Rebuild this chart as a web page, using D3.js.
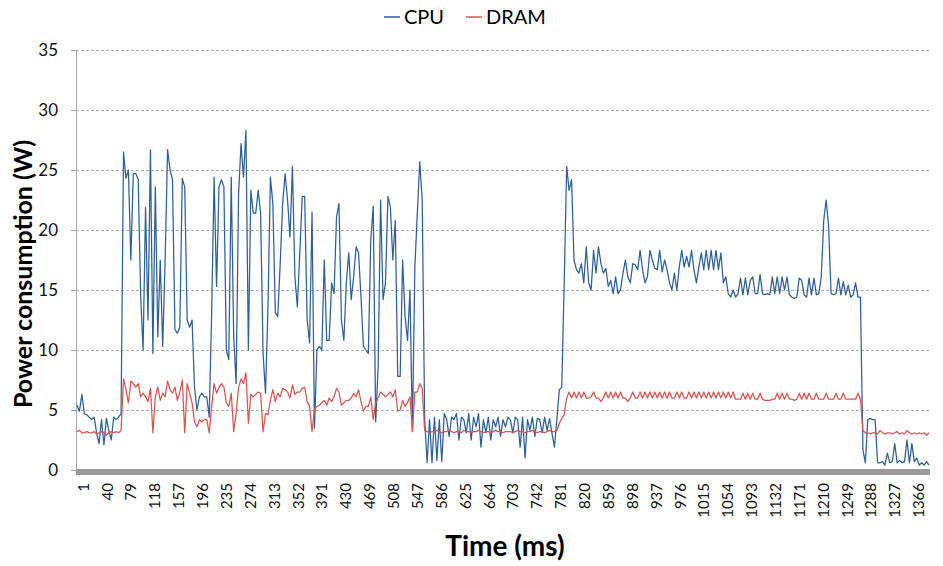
<!DOCTYPE html>
<html>
<head>
<meta charset="utf-8">
<script src="https://cdn.jsdelivr.net/npm/d3@7"></script>
<style>
  body { margin: 0; background: #fff; }
  text { font-family: Lato, "Open Sans", sans-serif; }
</style>
</head>
<body>
<svg id="chart"></svg>
<script>
// power samples, one every 4 ms
const sampleStepMs = 4;

const cpuWatts = [
  5.4, 4.9, 6.3, 4.7, 4.6, 4.4, 4.2, 4.4, 3.1, 2.2, 4.2, 2.1, 4.3, 3.3, 2.5, 4.4, 4.2, 4.4, 4.7,
  26.5, 24.3, 25, 17.5, 24.7, 24.7, 24.2, 14.5, 10, 21.9, 12.5, 26.7, 9.7, 23.6, 11.1, 17.5, 10.3, 17.5, 26.7, 25,
  24.2, 11.7, 11.4, 11.9, 24.3, 23.6, 12.5, 11.9, 12.5, 6.9, 5, 6.1, 6.4, 6.1, 6.1, 4.4, 13.1, 24.4, 15.3, 23.6,
  24.2, 23.6, 10, 9.2, 24.4, 11.1, 7.2, 23, 27.2, 24.4, 28.3, 10, 23.3, 21.4, 21.4, 23.3, 21.4, 9.7, 6.4, 13.6,
  24.4, 22.2, 13.1, 12.8, 17.2, 22.2, 24.7, 22.5, 19.4, 25.3, 16.1, 13.6, 18.1, 22.8, 22.8, 12.5, 10.6, 21.5, 3.5, 10,
  10.3, 10, 17.5, 10.8, 10.8, 15.6, 14.7, 21.1, 22.2, 12.5, 10.8, 15.6, 18.1, 14.2, 16.1, 18.6, 18.1, 14.4, 10.3, 10,
  9.7, 19.2, 22, 4, 8.6, 22.5, 14.2, 15.6, 22.8, 21.9, 17.5, 20.8, 7.8, 7.8, 17.5, 12.8, 10.8, 15, 3.2, 16.9,
  21.4, 25.7, 22.5, 4.2,
  0.6, 4.2, 0.6, 4.4, 0.8, 4.2, 0.7, 4.7, 4.2, 2.8, 4.4, 4.2, 4.7, 2.5, 4.4, 4.2, 3.1, 4.7, 2.5, 4.4,
  3.6, 4.7, 1.9, 4.2, 3.1, 4.4, 2.5, 4.2, 3.6, 4.4, 2.8, 4.2, 3.6, 4.4, 4.2, 3.1, 4.4, 4.2, 1.9, 4.4,
  1.0, 4.2, 3.3, 4.4, 2.8, 4.3, 4.2, 3.1, 4.4, 3.3, 4.3, 3.1, 1.9, 4.2,
  6.7, 6.9, 15.6, 25.3, 23.3, 24.2, 17.5, 16.7,
  16.4, 17.2, 15.6, 18.6, 15.6, 15, 18.3, 16.4, 18.6, 17.2, 16.4, 16.8, 15.3, 15.8, 14.7, 16.1, 14.7, 15, 16.4, 17.5,
  16.1, 15.6, 17.2, 17.1, 16.7, 18.3, 16.7, 15.6, 16.1, 18.3, 17.5, 16.8, 16.7, 18.3, 16.5, 17.5, 16.7, 15.6, 15, 16.4,
  15, 16.9, 18.3, 16.9, 17.8, 16.9, 18.3, 16.7, 15.6, 16.9, 18.1, 16.7, 18.3, 16.7, 18.3, 16.7, 18.3, 16.7, 18.1, 15.6,
  16.1, 14.7, 14.4, 15, 14.4, 14.7,
  16, 14.6, 16, 14.6, 15.8, 16.1, 14.7, 14.7, 16.3, 14.7, 14.6, 14.7, 14.6, 16.1, 14.7, 16.1, 14.7, 16.1, 15, 16.1,
  14.6, 14.4, 14.3, 14.4, 16, 15.8, 14.6, 14.4, 16, 14.6, 16, 14.6, 14.7, 16.1, 20.8, 22.5, 20.3, 14.7, 14.6, 14.7,
  16, 14.6, 15.7, 14.6, 15.4, 14.4, 14.6, 15.6, 14.4, 14.4,
  1.7, 0.6, 4.2, 4.3, 4.2, 4.2, 0.6, 0.6, 0.7, 0.4, 1.4, 0.6, 0.7, 2.2, 0.6, 0.8, 0.6, 0.7, 2.5, 0.6,
  2.2, 0.7, 1, 0.4, 0.6, 0.4, 0.7, 0.4
];

const dramWatts = [
  3.2, 3.3, 3.1, 3.1, 3.2, 3.1, 3.1, 3.2, 3.0, 3.1, 3.2, 3.1, 2.9, 3.1, 3.2, 3.1, 3.2, 3.1, 3.3,
  7.6, 6.7, 5.6, 7.4, 7.2, 6.9, 7.2, 6.1, 6.4, 6.1, 5.7, 6.8, 3.1, 6.1, 6.9, 5.8, 6.4, 6.1, 7.4, 6.7,
  6.4, 6.9, 5.8, 6.5, 7.5, 3.1, 7.2, 6.4, 5.6, 4.0, 3.6, 4.2, 4.0, 4.2, 4.2, 3.1, 5.3, 7.2, 6.4, 6.9,
  7.2, 6.9, 5.6, 5.3, 6.4, 3.2, 4.7, 6.9, 7.6, 7.2, 8.1, 3.9, 6.3, 6.1, 6.3, 6.5, 6.4, 3.2, 4.7, 4.6,
  5.8, 6.7, 5.7, 6.4, 6.1, 6.8, 6.7, 6.5, 6.0, 7.1, 6.3, 6.5, 6.5, 6.8, 6.9, 5.7, 5.3, 3.2, 5.1, 5.3,
  5.4, 5.6, 5.8, 5.4, 6.0, 5.7, 6.1, 6.8, 6.5, 5.4, 5.6, 5.8, 5.8, 6.0, 6.4, 6.1, 6.7, 5.7, 4.9, 5.3,
  5.3, 6.1, 4.2, 5.6, 6.0, 6.5, 6.3, 6.1, 6.3, 6.5, 6.1, 6.7, 4.9, 5.0, 5.8, 5.3, 5.6, 6.1, 3.2, 6.5,
  6.5, 7.2, 6.8, 3.3,
  3.2, 3.1, 3.2, 3.2, 3.3, 3.2, 3.1, 3.2, 3.2, 3.3, 3.2, 3.1, 3.2, 3.2, 3.1, 3.3, 3.2, 3.2, 3.1, 3.2,
  3.2, 3.3, 3.2, 3.1, 3.2, 3.2, 3.1, 3.2, 3.3, 3.2, 3.2, 3.1, 3.2, 3.2, 3.2, 3.1, 3.2, 3.3, 3.2, 3.2,
  3.1, 3.2, 3.2, 3.3, 3.2, 3.1, 3.2, 3.2, 3.1, 3.2, 3.3, 3.2, 3.2, 3.3,
  3.9, 4.3, 4.6, 6.0,
  6.5, 6.0, 6.5, 6.0, 6.5, 6.0, 6.5, 6.0, 6.0, 6.1, 6.5, 6.0, 6.0, 5.7, 6.0, 6.5, 6.0, 6.5, 6.0, 6.5,
  6.0, 6.5, 6.0, 6.0, 5.7, 6.0, 6.5, 6.0, 6.0, 6.5, 6.0, 6.5, 6.0, 6.5, 6.0, 6.5, 6.0, 6.5, 6.0, 6.5,
  6.0, 6.5, 6.0, 6.0, 6.5, 6.0, 6.5, 6.0, 6.0, 6.5, 6.0, 6.5, 6.0, 6.5, 6.0, 6.5, 6.0, 6.5, 6.0, 6.5,
  6.0, 6.5, 6.0, 6.5, 6.0, 6.5, 6.0, 6.5, 5.9, 5.9, 5.9, 6.4, 5.9, 6.4, 5.9, 6.4, 5.9, 5.9, 6.4, 5.9,
  5.8, 5.8, 5.8, 5.9, 5.9, 6.4, 5.9, 6.4, 5.9, 6.4, 5.9, 5.9, 5.8, 5.9, 6.4, 5.9, 6.4, 5.9, 6.4, 5.9,
  5.9, 6.4, 5.9, 5.9, 5.9, 6.4, 5.9, 5.9, 5.9, 6.4, 5.9, 5.9, 6.4, 5.9, 5.9, 5.9, 5.9, 5.9, 6.4, 5.9,
  3.3, 3.1, 3.1, 3.0, 3.1, 3.1, 3.0, 3.3, 3.1, 3.0, 3.1, 3.1, 3.0, 3.1, 3.2, 3.0, 3.1, 3.0, 3.3, 3.1,
  3.0, 3.1, 3.0, 3.1, 3.0, 3.1, 2.9, 3.1
];

const timeTicks = [1, 40, 79, 118, 157, 196, 235, 274, 313, 352, 391, 430, 469, 508, 547, 586, 625, 664,
  703, 742, 781, 820, 859, 898, 937, 976, 1015, 1054, 1093, 1132, 1171, 1210, 1249, 1288, 1327, 1366];
const powerTicks = [0, 5, 10, 15, 20, 25, 30, 35];

const seriesNames = ["CPU", "DRAM"];
const colors = { CPU: "#2d5f99", DRAM: "#d9534f" };

const width = 943, height = 566;
const margin = { top: 50, right: 13, bottom: 96, left: 76 };
const plotW = width - margin.left - margin.right;
const plotH = height - margin.top - margin.bottom;

const svg = d3.select("#chart").attr("width", width).attr("height", height);
const g = svg.append("g").attr("transform", `translate(${margin.left},${margin.top})`);

const timeMs = cpuWatts.map((d, i) => 1 + i * sampleStepMs);

const xScale = d3.scaleLinear()
  .domain([1, timeMs[timeMs.length - 1]])
  .range([1, plotW - 1]);
const yScale = d3.scaleLinear().domain([0, 35]).range([plotH, 0]);

// dashed gridlines
g.append("g")
  .call(d3.axisLeft(yScale).tickValues(powerTicks.slice(1)).tickSize(-plotW).tickFormat(""))
  .call((a) => a.select(".domain").remove())
  .call((a) => a.selectAll("line").attr("stroke", "#b0b0b0").attr("stroke-dasharray", "3,2"));

// y axis
g.append("g")
  .call(d3.axisLeft(yScale).tickValues(powerTicks).tickSize(5).tickPadding(13).tickSizeOuter(0))
  .call((a) => a.select(".domain").attr("stroke", "#a6a6a6"))
  .call((a) => a.selectAll("line").attr("stroke", "#a6a6a6"))
  .call((a) => a.selectAll("text").attr("font-size", 17).attr("fill", "#111")
    .style("font-family", "Lato, sans-serif"));

// series
const line = d3.line()
  .x((d, i) => xScale(timeMs[i]))
  .y((d) => yScale(d));

const seriesData = { CPU: cpuWatts, DRAM: dramWatts };
seriesNames.forEach((name) =>
  g.append("path")
    .datum(seriesData[name])
    .attr("d", line)
    .attr("fill", "none")
    .attr("stroke", colors[name])
    .attr("stroke-width", 1.25)
    .attr("stroke-linejoin", "round")
);

// x axis (thick grey base bar + rotated labels)
g.append("g")
  .attr("transform", `translate(0,${plotH})`)
  .call(d3.axisBottom(xScale).tickValues(timeTicks).tickFormat(d3.format("d"))
    .tickSize(0).tickSizeOuter(0))
  .call((a) => a.select(".domain")
    .attr("d", `M0,2H${plotW}`)
    .attr("stroke", "#9a9a9a")
    .attr("stroke-width", 6))
  .call((a) => a.selectAll("text")
    .attr("transform", "rotate(-90)")
    .attr("text-anchor", "end")
    .attr("x", -13)
    .attr("y", 6)
    .attr("dy", "0.35em")
    .attr("font-size", 15)
    .attr("fill", "#111")
    .style("font-family", "Lato, sans-serif"));

// axis titles
svg.append("text")
  .attr("transform", `translate(32,${margin.top + plotH / 2 + 14}) rotate(-90)`)
  .attr("text-anchor", "middle")
  .attr("font-size", 25)
  .attr("font-weight", "bold")
  .text("Power consumption (W)");

svg.append("text")
  .attr("x", 505)
  .attr("y", 556)
  .attr("text-anchor", "middle")
  .attr("font-size", 28)
  .attr("font-weight", "bold")
  .text("Time (ms)");

// legend
const legend = svg.append("g").attr("transform", "translate(384,17)");
const legendX = { CPU: 0, DRAM: 82 };
seriesNames.forEach((name) => {
  const item = legend.append("g").attr("transform", `translate(${legendX[name]},0)`);
  item.append("line").attr("x1", 0).attr("x2", 16)
    .attr("stroke", colors[name]).attr("stroke-width", 1.5);
  item.append("text").attr("x", 20).attr("y", 7)
    .attr("font-size", 20).text(name);
});
</script>
</body>
</html>
